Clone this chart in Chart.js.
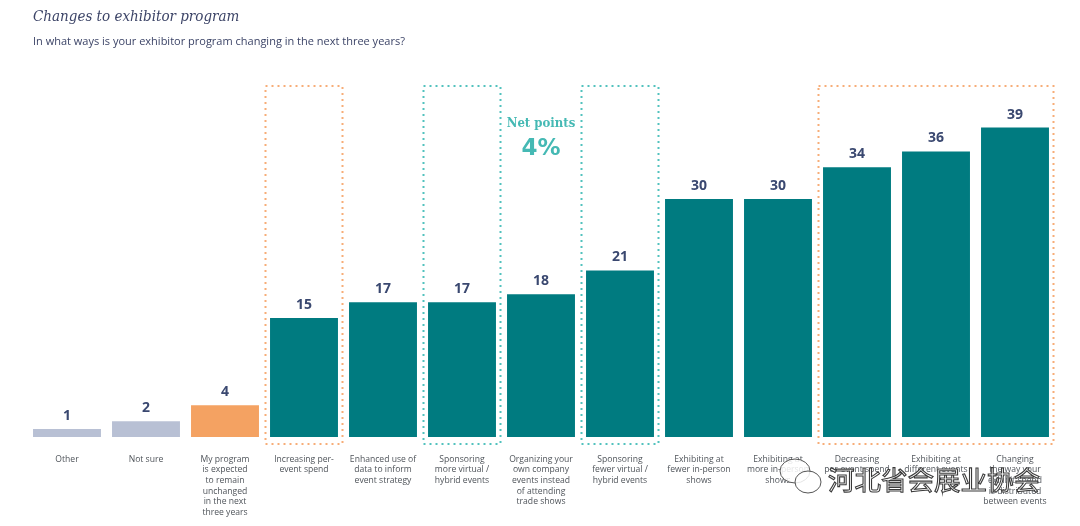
<!DOCTYPE html>
<html>
<head>
<meta charset="utf-8">
<script src="https://cdn.jsdelivr.net/npm/chart.js@4/dist/chart.umd.min.js"></script>
<style>
  html, body { margin: 0; padding: 0; background: #ffffff; }
  #wrap { position: relative; width: 1080px; height: 526px; }
  canvas { display: block; }
</style>
</head>
<body>
<div id="wrap"><canvas id="c" width="1080" height="526"></canvas></div>
<script>
const titleText = "Changes to exhibitor program";
const subtitleText = "In what ways is your exhibitor program changing in the next three years?";
const categories = [
  ["Other"],
  ["Not sure"],
  ["My program", "is expected", "to remain", "unchanged", "in the next", "three years"],
  ["Increasing per-", "event spend"],
  ["Enhanced use of", "data to inform", "event strategy"],
  ["Sponsoring", "more virtual /", "hybrid events"],
  ["Organizing your", "own company", "events instead", "of attending", "trade shows"],
  ["Sponsoring", "fewer virtual /", "hybrid events"],
  ["Exhibiting at", "fewer in-person", "shows"],
  ["Exhibiting at", "more in-person", "shows"],
  ["Decreasing", "per-event spend"],
  ["Exhibiting at", "different events"],
  ["Changing", "the way your", "exhibit spend", "is distributed", "between events"]
];
const values = [1, 2, 4, 15, 17, 17, 18, 21, 30, 30, 34, 36, 39];
const barColors = ["#b8c0d4", "#b8c0d4", "#f4a262", "#007b80", "#007b80", "#007b80", "#007b80", "#007b80", "#007b80", "#007b80", "#007b80", "#007b80", "#007b80"];
// dotted highlight boxes: [first index, last index, colour]
const boxStart = [3, 5, 7, 10];
const boxEnd   = [3, 5, 7, 12];
const boxColor = ["#f7ad78", "#52c2be", "#52c2be", "#f7ad78"];
const netLabel = "Net points";
const netValue = "4%";
const watermark = "河北省会展业协会";

const textPlugin = {
  id: 'texts',
  afterDatasetsDraw(chart) {
    const ctx = chart.ctx;
    const xs = chart.scales.x, ca = chart.chartArea;
    ctx.save();
    // dotted boxes
    ctx.lineWidth = 2;
    ctx.setLineDash([2, 4]);
    const half = (xs.getPixelForValue(1) - xs.getPixelForValue(0)) / 2;
    for (let i = 0; i < boxStart.length; i++) {
      const l = xs.getPixelForValue(boxStart[i]) - half + 1;
      const r = xs.getPixelForValue(boxEnd[i]) + half - 1;
      const t = ca.top + 6;
      const b = ca.bottom + 7;
      ctx.strokeStyle = boxColor[i];
      ctx.strokeRect(l, t, r - l, b - t);
    }
    ctx.setLineDash([]);
    // value labels
    const meta = chart.getDatasetMeta(0);
    ctx.fillStyle = "#3a4870";
    ctx.font = "bold 14px 'Open Sans'";
    ctx.textAlign = "center";
    ctx.textBaseline = "middle";
    meta.data.forEach((bar, i) => {
      ctx.fillText(String(values[i]), bar.x, bar.y - 13);
    });
    // net points
    const nx = (xs.getPixelForValue(6));
    ctx.fillStyle = "#45b9b4";
    ctx.font = "bold 13px 'DejaVu Serif Condensed', 'DejaVu Serif'";
    ctx.fillText(netLabel, nx, 124);
    ctx.font = "bold 23px 'DejaVu Sans'";
    ctx.fillText(netValue, nx, 149);
    // title and subtitle
    ctx.textAlign = "left";
    ctx.fillStyle = "#3c4467";
    ctx.font = "italic 15px 'DejaVu Serif Condensed', 'DejaVu Serif'";
    ctx.fillText(titleText, 33, 17);
    ctx.font = "11px 'Open Sans'";
    ctx.fillText(subtitleText, 33, 42);
    // watermark
    ctx.lineWidth = 1;
    ctx.strokeStyle = "#555555";
    ctx.fillStyle = "rgba(255,255,255,0.85)";
    ctx.beginPath(); ctx.ellipse(795, 471, 15, 12, 0, 0, Math.PI * 2); ctx.fill(); ctx.stroke();
    ctx.beginPath(); ctx.ellipse(808, 482, 13, 11, 0, 0, Math.PI * 2); ctx.fill(); ctx.stroke();
    ctx.font = "26.5px 'Noto Sans CJK SC'";
    ctx.textAlign = "left";
    ctx.textBaseline = "middle";
    ctx.lineWidth = 1.1;
    ctx.strokeStyle = "#3a3a3a";
    ctx.fillStyle = "#ffffff";
    ctx.fillText(watermark, 828, 480);
    ctx.strokeText(watermark, 828, 480);
    ctx.restore();
  }
};

new Chart(document.getElementById('c'), {
  type: 'bar',
  data: {
    labels: categories,
    datasets: [{
      data: values,
      backgroundColor: barColors,
      borderWidth: 0,
      barPercentage: 0.86,
      categoryPercentage: 1.0
    }]
  },
  options: {
    responsive: false,
    animation: false,
    devicePixelRatio: 1,
    layout: { padding: { top: 80, left: 27.5, right: 25.5, bottom: 0 } },
    plugins: { legend: { display: false }, tooltip: { enabled: false }, title: { display: false } },
    scales: {
      x: {
        grid: { display: false, drawTicks: false },
        border: { display: false },
        ticks: {
          color: "#4f545a",
          font: { family: "'Open Sans'", size: 8.6, lineHeight: 1.24 },
          padding: 17,
          maxRotation: 0,
          autoSkip: false
        },
        afterFit(scale) { scale.height = 89; }
      },
      y: {
        display: false,
        min: 0,
        max: 45
      }
    }
  },
  plugins: [textPlugin]
});
</script>
</body>
</html>
